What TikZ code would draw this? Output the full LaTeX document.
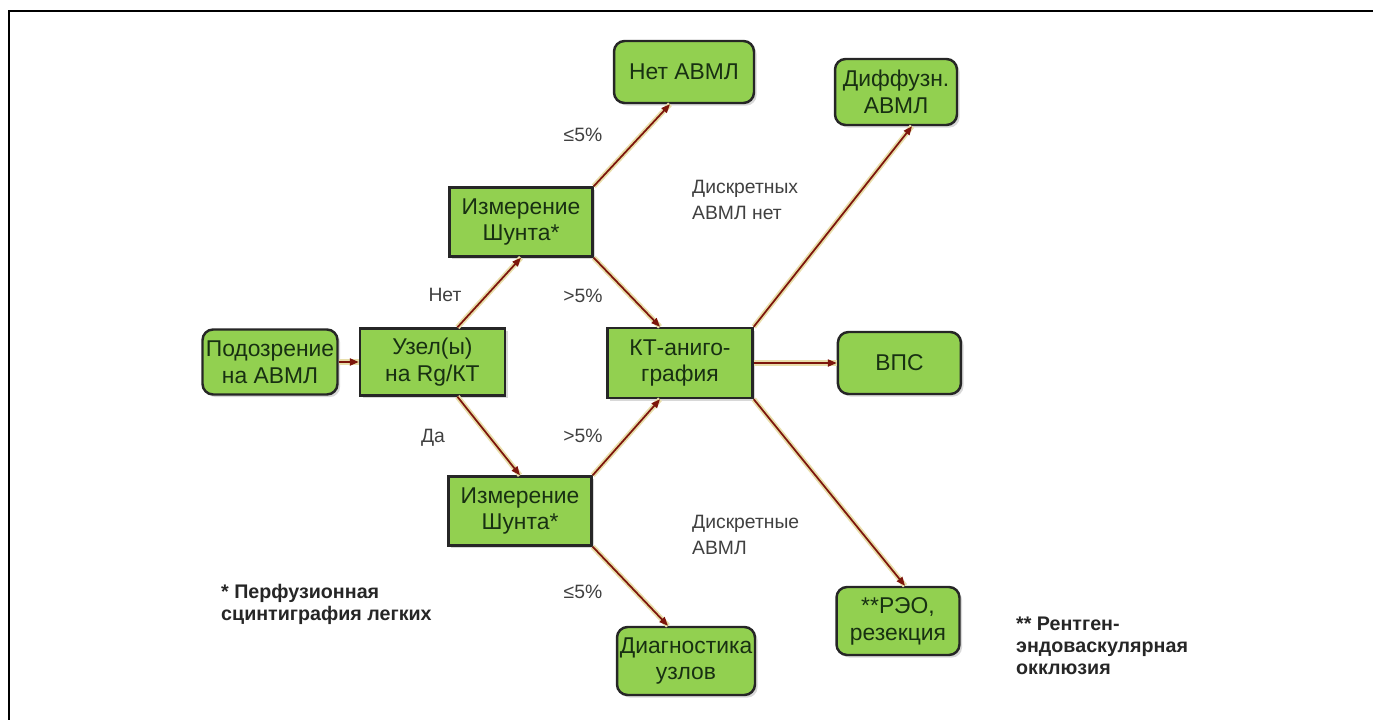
\documentclass[tikz,border=0pt]{standalone}
\usepackage{fontspec}
\setmainfont{Liberation Sans}
\usepackage{tikz}
\definecolor{boxgreen}{RGB}{146, 208, 80}
\definecolor{darkred}{RGB}{125, 22, 12}
\definecolor{glow}{RGB}{232, 222, 170}
\definecolor{textgreen}{RGB}{24, 48, 18}
\usetikzlibrary{arrows.meta, positioning, calc, shadows}

\begin{document}
\begin{tikzpicture}[
    x=0.02cm, y=-0.02cm,
    base/.style={draw=black!85, line width=1.4pt, fill=boxgreen, align=center, inner sep=0pt, text=textgreen, font=\fontsize{13}{15.3}\selectfont, drop shadow={shadow xshift=1.5pt, shadow yshift=-1.5pt, fill=black!30}},
    box/.style={base, rounded corners=6pt},
    sqbox/.style={base},
    arrow/.style={-{Triangle[length=5pt, width=4pt]}, line width=1pt, darkred, preaction={draw=glow, line width=3pt, -}},
    lbl/.style={font=\fontsize{11}{14.5}\selectfont, text=black!75, align=left},
    note/.style={font=\fontsize{11.2}{12.5}\selectfont\bfseries, text=black!85, align=left, anchor=west}
]
    \useasboundingbox (0,0) rectangle (1373,720);
    \draw[line width=0.06cm] (9,720) -- (9,11) -- (1373,11);

    \node[box, minimum width=2.7cm, minimum height=1.3cm] (podozr) at (270,362) {Подозрение\\на АВМЛ};
    \node[sqbox, minimum width=2.9cm, minimum height=1.34cm, right=0.4cm of podozr] (uzel) {Узел(ы)\\на Rg/КТ};
    \node[sqbox, minimum width=2.86cm, minimum height=1.38cm] (meas1) at (521,222) {Измерение\\Шунта*};
    \node[sqbox, minimum width=2.86cm, minimum height=1.38cm] (meas2) at (520,511) {Измерение\\Шунта*};
    \node[sqbox, minimum width=2.9cm, minimum height=1.4cm] (kt) at (680,363) {КТ-аниго-\\графия};
    \node[box, minimum width=2.8cm, minimum height=1.24cm] (net) at (684,72) {Нет АВМЛ};
    \node[box, minimum width=2.44cm, minimum height=1.32cm] (diff) at (896,92) {Диффузн.\\АВМЛ};
    \node[box, minimum width=2.46cm, minimum height=1.24cm, right=1.66cm of kt] (vps) {ВПС};
    \node[box, minimum width=2.76cm, minimum height=1.36cm] (diag) at (686,661) {Диагностика\\узлов};
    \node[box, minimum width=2.46cm, minimum height=1.36cm] (reo) at (898,621) {**РЭО,\\резекция};

    \node[lbl] (le1) at (583,135) {≤5\%};
    \node[lbl] (no) at (445,295) {Нет};
    \node[lbl] (gt1) at (583,296) {>5\%};
    \node[lbl, anchor=west] (discno) at (686,200) {Дискретных\\АВМЛ нет};
    \node[lbl] (yes) at (433,438) {Да};
    \node[lbl] (gt2) at (583,436) {>5\%};
    \node[lbl, anchor=west] (disc) at (686,535) {Дискретные\\АВМЛ};
    \node[lbl] (le2) at (583,592) {≤5\%};
    \node[note] (fn1) at (215,604) {* Перфузионная\\сцинтиграфия легких};
    \node[note] (fn2) at (1010,646) {** Рентген-\\эндоваскулярная\\окклюзия};

    \draw[arrow] (podozr) -- (uzel);
    \draw[arrow] ($(uzel.north)+(25,0)$) -- (meas1.south);
    \draw[arrow] ($(uzel.south)+(25,0)$) -- (meas2.north);
    \draw[arrow] (meas1.north east) -- ($(net.south)+(-14,0)$);
    \draw[arrow] (meas1.south east) -- ($(kt.north)+(-20,0)$);
    \draw[arrow] (meas2.north east) -- ($(kt.south)+(-20,0)$);
    \draw[arrow] (meas2.south east) -- ($(diag.north)+(-18,0)$);
    \draw[arrow] (kt.north east) -- ($(diff.south)+(16,0)$);
    \draw[arrow] (kt.east) -- (vps.west);
    \draw[arrow] (kt.south east) -- ($(reo.north)+(7,0)$);
\end{tikzpicture}
\end{document}
